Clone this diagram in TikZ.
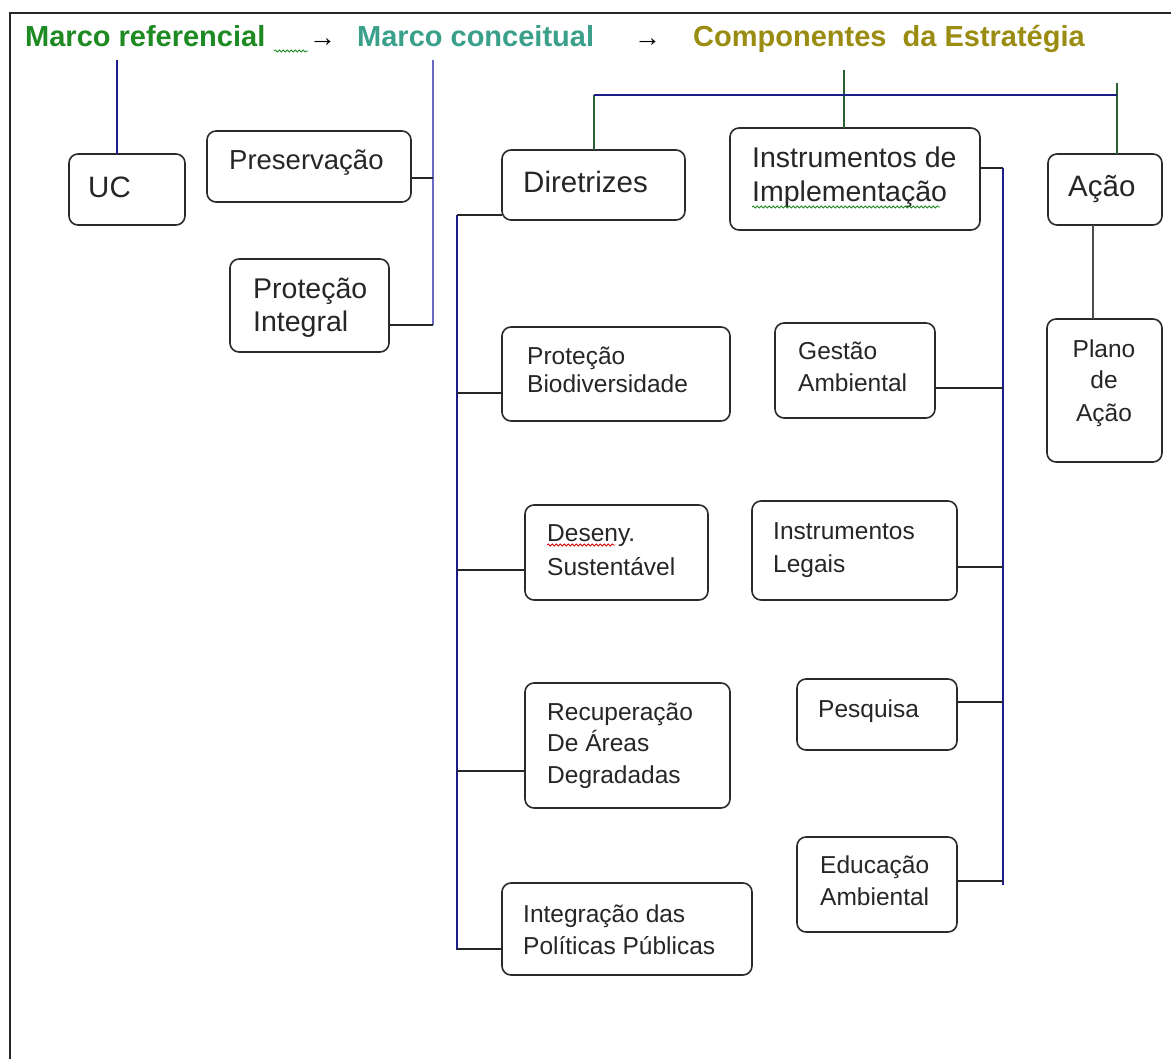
\documentclass[tikz,border=0pt]{standalone}
\usepackage{fontspec}
\setmainfont{Liberation Sans}
\usetikzlibrary{decorations.pathmorphing}
\definecolor{cRef}{HTML}{1E8A22}
\definecolor{cCon}{HTML}{3AA08A}
\definecolor{cCom}{HTML}{9A8C10}
\definecolor{lnavy}{HTML}{1C1C8A}
\definecolor{lblue}{HTML}{6A6AC4}
\definecolor{lgreen}{HTML}{2C5E34}
\definecolor{bord}{HTML}{2A2A2A}
\newcommand\bx[5]{\node[box, minimum width={#4-#2}, minimum height={#5-#3}, anchor=north west] (#1) at (#2,#3) {};}
\newcommand\bigf{\fontsize{28.5}{33}\selectfont}
\newcommand\smf{\fontsize{24.5}{30}\selectfont}
\newcommand\hdf{\fontsize{29}{33}\selectfont\bfseries}
\begin{document}
\begin{tikzpicture}[x=1pt,y=-1pt,
  box/.style={draw=bord, line width=1.6pt, rounded corners=9pt, inner sep=0pt, outer sep=0pt, fill=white},
  bt/.style={anchor=base west, inner sep=0pt, font=\bigf, text=black!85},
  st/.style={anchor=base west, inner sep=0pt, font=\smf, text=black!85},
  sc/.style={anchor=base, inner sep=0pt, font=\smf, text=black!85},
  hd/.style={anchor=base west, inner sep=0pt, font=\hdf},
  kl/.style={line width=1.5pt, draw=black!85},
  nv/.style={line width=1.5pt, draw=lnavy},
  lb/.style={line width=2pt, draw=lblue},
  gr/.style={line width=1.5pt, draw=lgreen},
  squig/.style={decorate, decoration={snake, segment length=4pt, amplitude=1pt}, line width=0.8pt}]
\useasboundingbox (0,0) rectangle (1171,1059);
\fill[white] (0,0) rectangle (1171,1059);
% frame
\coordinate (fBL) at (10,1059);
\coordinate (fTL) at (10,13);
\coordinate (fTR) at (1171,13);
\draw[line width=2pt, black!85] (fBL) -- (fTL) -- (fTR);
% header
\node[hd, text=cRef] (hRef) at (25,47) {Marco referencial};
\node[hd, font=\fontsize{27}{33}\selectfont] (a1) at (309,47) {→};
\node[hd, text=cCon] (hCon) at (357,47) {Marco conceitual};
\node[hd, font=\fontsize{27}{33}\selectfont] (a2) at (634,47) {→};
\node[hd, text=cCom] (hCom) at (693,47) {Componentes\ \ da Estratégia};
\coordinate (sq1a) at (274,51);
\coordinate (sq1b) at (308,51);
\draw[squig, cRef] (sq1a) -- (sq1b);
% boxes
\bx{UC}{69}{154}{185}{225}
\bx{Pres}{207}{131}{411}{202}
\bx{PInt}{230}{259}{389}{352}
\bx{Dir}{502}{150}{685}{220}
\bx{Inst}{730}{128}{980}{230}
\bx{Acao}{1048}{154}{1162}{225}
\bx{PBio}{502}{327}{730}{421}
\bx{Gest}{775}{323}{935}{418}
\bx{Plano}{1047}{319}{1162}{462}
\bx{Des}{525}{505}{708}{600}
\bx{Leg}{752}{501}{957}{600}
\bx{Rec}{525}{683}{730}{808}
\bx{Pesq}{797}{679}{957}{750}
\bx{Edu}{797}{837}{957}{932}
\bx{Integ}{502}{883}{752}{975}
% texts
\node[bt, font=\fontsize{29.5}{33}\selectfont] (tUC) at (88,198) {UC};
\node[bt, font=\fontsize{27.5}{33}\selectfont] (tPres) at (229,170) {Preservação};
\node[bt] (tPInt1) at (253,299) {Proteção};
\node[bt] (tPInt2) at (253,332) {Integral};
\node[bt, font=\fontsize{29.5}{33}\selectfont] (tDir) at (523,193) {Diretrizes};
\node[bt] (tInst1) at (752,168) {Instrumentos de};
\node[bt] (tInst2) at (752,202) {Implementação};
\node[bt, font=\fontsize{29.5}{33}\selectfont] (tAcao) at (1068,197) {Ação};
\node[st] (tPB1) at (527,365) {Proteção};
\node[st] (tPB2) at (527,393) {Biodiversidade};
\node[st] (tG1) at (798,360) {Gestão};
\node[st] (tG2) at (798,392) {Ambiental};
\node[sc] (tPl1) at (1104,358) {Plano};
\node[sc] (tPl2) at (1104,389) {de};
\node[sc] (tPl3) at (1104,421) {Ação};
\node[st] (tD1) at (547,541) {Deseny.};
\node[st] (tD2) at (547,575) {Sustentável};
\node[st] (tL1) at (773,539) {Instrumentos};
\node[st] (tL2) at (773,572) {Legais};
\node[st] (tR1) at (547,720) {Recuperação};
\node[st] (tR2) at (547,751) {De Áreas};
\node[st] (tR3) at (547,783) {Degradadas};
\node[st] (tP1) at (818,717) {Pesquisa};
\node[st] (tE1) at (820,873) {Educação};
\node[st] (tE2) at (820,905) {Ambiental};
\node[st] (tI1) at (523,922) {Integração das};
\node[st] (tI2) at (523,954) {Políticas Públicas};
% spell-check squiggles
\draw[squig, red!85!black] (tD1.base west) ++(0,4) -- ++(68,0);
\draw[squig, cRef] (tInst2.base west) ++(0,5) -- ++(188,0);
% connectors: marco referencial
\coordinate (ucTop) at (117,60);
\draw[nv] (ucTop) -- (ucTop |- UC.north);
% marco conceitual
\coordinate (mcTop) at (433,60);
\coordinate (mcBot) at (433,325);
\coordinate (mcPres) at (433,178);
\draw[lb] (mcTop) -- (mcBot);
\draw[kl] (Pres.east |- mcPres) -- (mcPres);
\draw[kl] (PInt.east |- mcBot) -- (mcBot);
% top bar
\coordinate (tbL) at (594,95);
\coordinate (tbR) at (1117,95);
\coordinate (tbM) at (844,95);
\coordinate (cTop) at (844,70);
\coordinate (rTop) at (1117,83);
\draw[gr] (tbL) -- (tbL |- Dir.north);
\draw[gr] (cTop) -- (cTop |- Inst.north);
\draw[gr] (rTop) -- (rTop |- Acao.north);
\draw[nv] (tbL) -- (tbR);
% diretrizes
\coordinate (dTop) at (457,215);
\coordinate (dBot) at (457,950);
\draw[nv] (dTop) -- (dBot);
\draw[kl] (Dir.west |- dTop) -- (dTop);
\coordinate (d1) at (457,393);
\coordinate (d2) at (457,570);
\coordinate (d3) at (457,771);
\coordinate (d4) at (457,949);
\draw[kl] (d1) -- (d1 -| PBio.west);
\draw[kl] (d2) -- (d2 -| Des.west);
\draw[kl] (d3) -- (d3 -| Rec.west);
\draw[kl] (d4) -- (d4 -| Integ.west);
% instrumentos
\coordinate (iTop) at (1003,168);
\coordinate (iBot) at (1003,885);
\draw[nv] (iTop) -- (iBot);
\draw[kl] (Inst.east |- iTop) -- (iTop);
\coordinate (i1) at (1003,388);
\coordinate (i2) at (1003,567);
\coordinate (i3) at (1003,702);
\coordinate (i4) at (1003,881);
\draw[kl] (i1) -- (i1 -| Gest.east);
\draw[kl] (i2) -- (i2 -| Leg.east);
\draw[kl] (i3) -- (i3 -| Pesq.east);
\draw[kl] (i4) -- (i4 -| Edu.east);
% acao
\coordinate (aX) at (1093,225);
\draw[line width=2pt, draw=black!70] (aX |- Acao.south) -- (aX |- Plano.north);
\end{tikzpicture}
\end{document}
